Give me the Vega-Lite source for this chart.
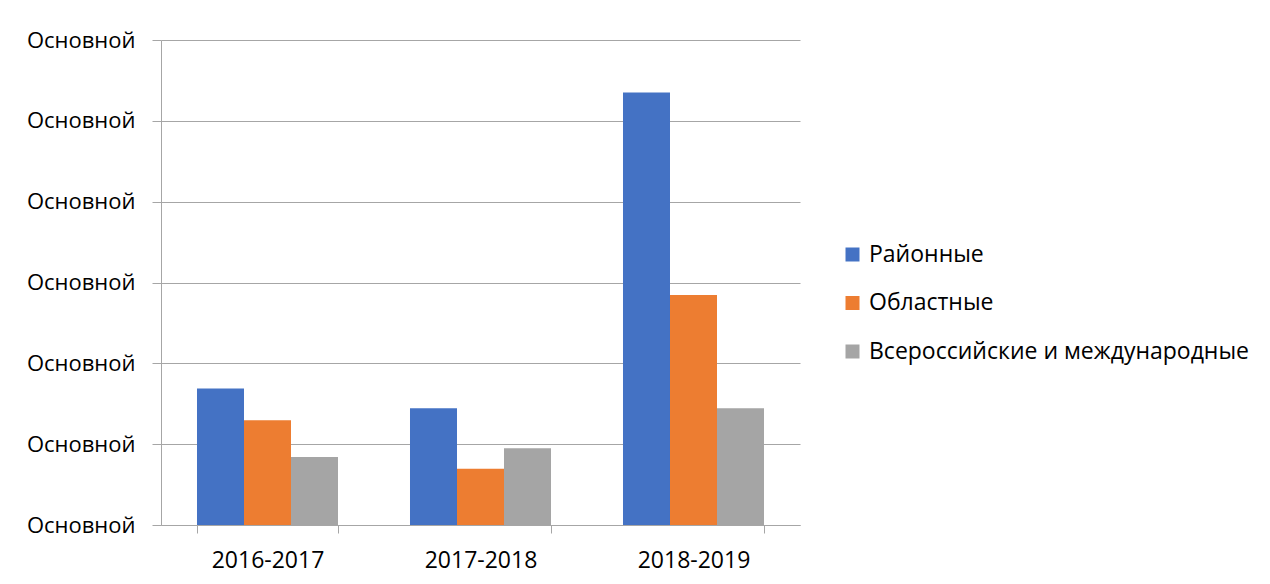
{
  "$schema": "https://vega.github.io/schema/vega-lite/v6.json",
  "autosize": {"type": "none"},
  "padding": {"left": 161, "top": 40, "right": 470, "bottom": 59},
  "width": 639,
  "height": 485,
  "background": "white",
  "data": {
    "values": [
      {"year": "2016-2017", "level": "Районные", "value": 16.9},
      {"year": "2016-2017", "level": "Областные", "value": 12.95},
      {"year": "2016-2017", "level": "Всероссийские и международные", "value": 8.4},
      {"year": "2017-2018", "level": "Районные", "value": 14.45},
      {"year": "2017-2018", "level": "Областные", "value": 6.95},
      {"year": "2017-2018", "level": "Всероссийские и международные", "value": 9.5},
      {"year": "2018-2019", "level": "Районные", "value": 53.5},
      {"year": "2018-2019", "level": "Областные", "value": 28.45},
      {"year": "2018-2019", "level": "Всероссийские и международные", "value": 14.45}
    ]
  },
  "mark": {"type": "bar"},
  "encoding": {
    "x": {
      "field": "year",
      "type": "nominal",
      "scale": {"paddingInner": 0.338, "paddingOuter": 0.169},
      "axis": {
        "title": null,
        "labelAngle": 0,
        "tickBand": "extent",
        "tickSize": 8,
        "labelPadding": 16,
        "labelFontSize": 23,
        "labelFont": "Open Sans",
        "labelColor": "#000000",
        "domainColor": "#A6A6A6",
        "tickColor": "#A6A6A6",
        "grid": false
      }
    },
    "xOffset": {
      "field": "level",
      "type": "nominal",
      "sort": ["Районные", "Областные", "Всероссийские и международные"],
      "scale": {"paddingInner": 0, "paddingOuter": 0}
    },
    "y": {
      "field": "value",
      "type": "quantitative",
      "scale": {"domain": [0, 60], "nice": false},
      "axis": {
        "title": null,
        "values": [0, 10, 20, 30, 40, 50, 60],
        "labelExpr": "'Основной'",
        "tickSize": 9,
        "labelPadding": 17,
        "labelFontSize": 22,
        "labelFont": "Open Sans",
        "labelColor": "#000000",
        "domainColor": "#A6A6A6",
        "tickColor": "#A6A6A6",
        "gridColor": "#A6A6A6",
        "grid": true
      }
    },
    "color": {
      "field": "level",
      "type": "nominal",
      "scale": {
        "domain": ["Районные", "Областные", "Всероссийские и международные"],
        "range": ["#4472C4", "#ED7D31", "#A5A5A5"]
      },
      "legend": {
        "title": null,
        "orient": "none",
        "legendX": 680,
        "legendY": 203,
        "padding": 0,
        "symbolType": "square",
        "symbolSize": 196,
        "symbolStrokeWidth": 0,
        "labelFontSize": 23,
        "labelFont": "Open Sans",
        "labelColor": "#000000",
        "labelOffset": 5,
        "rowPadding": 24.5,
        "labelLimit": 500
      }
    }
  },
  "config": {
    "view": {"stroke": null}
  }
}
